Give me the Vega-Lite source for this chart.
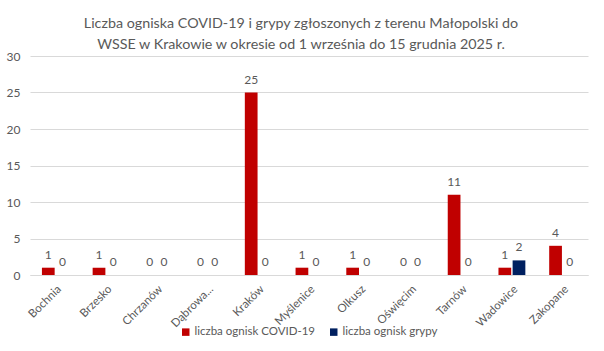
{
  "$schema": "https://vega.github.io/schema/vega-lite/v6.json",
  "autosize": {"type": "none"},
  "width": 558,
  "height": 219,
  "padding": {"left": 30, "top": 56, "right": 16, "bottom": 76},
  "background": "white",
  "title": {
    "text": ["Liczba ogniska COVID-19 i grypy zgłoszonych z terenu Małopolski  do", "WSSE w Krakowie w okresie od 1 września do 15 grudnia 2025 r."],
    "font": "Lato",
    "fontSize": 14.3,
    "fontWeight": "normal",
    "color": "#595959",
    "anchor": "middle",
    "lineHeight": 21,
    "offset": 0,
    "dy": 2,
    "dx": -8
  },
  "config": {
    "view": {"stroke": null},
    "font": "Lato"
  },
  "data": {
    "values": [
      {"miasto": "Bochnia", "seria": "liczba ognisk COVID-19", "wartosc": 1},
      {"miasto": "Bochnia", "seria": "liczba ognisk grypy", "wartosc": 0},
      {"miasto": "Brzesko", "seria": "liczba ognisk COVID-19", "wartosc": 1},
      {"miasto": "Brzesko", "seria": "liczba ognisk grypy", "wartosc": 0},
      {"miasto": "Chrzanów", "seria": "liczba ognisk COVID-19", "wartosc": 0},
      {"miasto": "Chrzanów", "seria": "liczba ognisk grypy", "wartosc": 0},
      {"miasto": "Dąbrowa...", "seria": "liczba ognisk COVID-19", "wartosc": 0},
      {"miasto": "Dąbrowa...", "seria": "liczba ognisk grypy", "wartosc": 0},
      {"miasto": "Kraków", "seria": "liczba ognisk COVID-19", "wartosc": 25},
      {"miasto": "Kraków", "seria": "liczba ognisk grypy", "wartosc": 0},
      {"miasto": "Myślenice", "seria": "liczba ognisk COVID-19", "wartosc": 1},
      {"miasto": "Myślenice", "seria": "liczba ognisk grypy", "wartosc": 0},
      {"miasto": "Olkusz", "seria": "liczba ognisk COVID-19", "wartosc": 1},
      {"miasto": "Olkusz", "seria": "liczba ognisk grypy", "wartosc": 0},
      {"miasto": "Oświęcim", "seria": "liczba ognisk COVID-19", "wartosc": 0},
      {"miasto": "Oświęcim", "seria": "liczba ognisk grypy", "wartosc": 0},
      {"miasto": "Tarnów", "seria": "liczba ognisk COVID-19", "wartosc": 11},
      {"miasto": "Tarnów", "seria": "liczba ognisk grypy", "wartosc": 0},
      {"miasto": "Wadowice", "seria": "liczba ognisk COVID-19", "wartosc": 1},
      {"miasto": "Wadowice", "seria": "liczba ognisk grypy", "wartosc": 2},
      {"miasto": "Zakopane", "seria": "liczba ognisk COVID-19", "wartosc": 4},
      {"miasto": "Zakopane", "seria": "liczba ognisk grypy", "wartosc": 0}
    ]
  },
  "encoding": {
    "x": {
      "field": "miasto",
      "type": "nominal",
      "sort": null,
      "scale": {"paddingInner": 0.47, "paddingOuter": 0.235},
      "axis": {
        "title": null,
        "labelAngle": -45,
        "labelFontSize": 11.5,
        "labelColor": "#595959",
        "ticks": false,
        "domainColor": "#d9d9d9",
        "labelPadding": 8,
        "labelFont": "Lato"
      }
    },
    "xOffset": {
      "field": "seria",
      "type": "nominal",
      "sort": ["liczba ognisk COVID-19", "liczba ognisk grypy"],
      "scale": {"paddingInner": 0.1}
    },
    "y": {
      "field": "wartosc",
      "type": "quantitative",
      "scale": {"domain": [0, 30]},
      "axis": {
        "title": null,
        "values": [0, 5, 10, 15, 20, 25, 30],
        "labelFontSize": 12,
        "labelColor": "#595959",
        "ticks": false,
        "domain": false,
        "gridColor": "#d9d9d9",
        "labelPadding": 10,
        "labelFont": "Lato"
      }
    }
  },
  "layer": [
    {
      "mark": {"type": "bar"},
      "encoding": {
        "color": {
          "field": "seria",
          "type": "nominal",
          "scale": {"domain": ["liczba ognisk COVID-19", "liczba ognisk grypy"], "range": ["#c00000", "#002060"]},
          "legend": {
            "title": null,
            "orient": "none",
            "direction": "horizontal",
            "legendX": 150,
            "legendY": 270,
            "symbolType": "square",
            "symbolSize": 56,
            "symbolStrokeWidth": 0,
            "labelFontSize": 11.5,
            "labelColor": "#595959",
            "labelFont": "Lato",
            "columnPadding": 12,
            "labelOffset": 3
          }
        }
      }
    },
    {
      "mark": {"type": "text", "baseline": "bottom", "dy": -6, "fontSize": 12, "color": "#595959", "font": "Lato"},
      "encoding": {
        "text": {"field": "wartosc", "type": "quantitative"}
      }
    }
  ]
}
